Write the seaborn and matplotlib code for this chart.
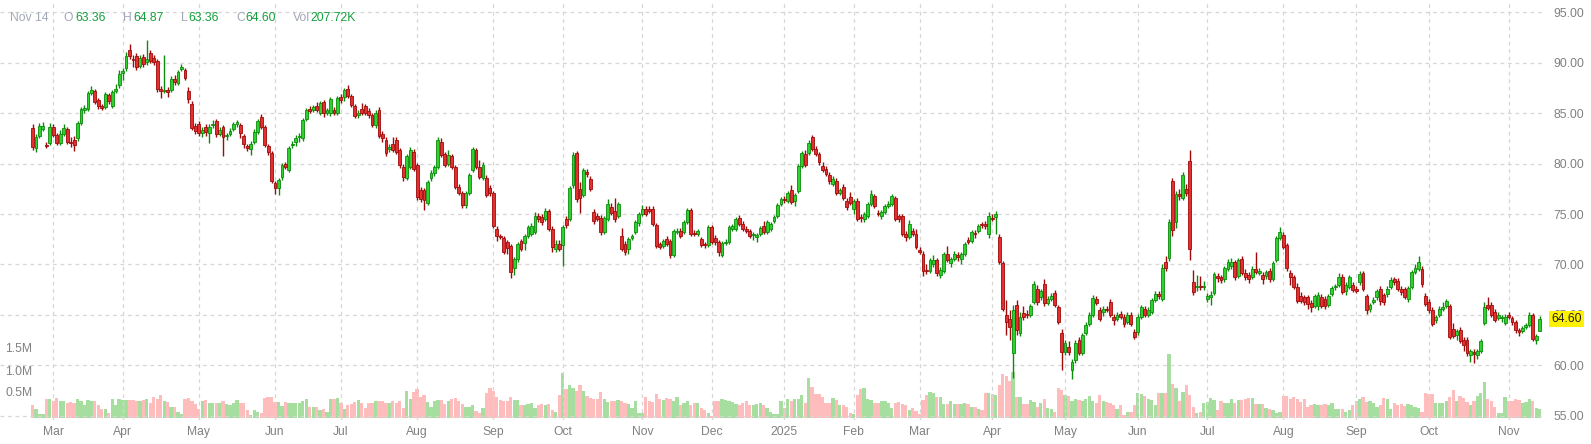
import numpy as np
import pandas as pd
import matplotlib
matplotlib.use("Agg")
import matplotlib.pyplot as plt
import seaborn as sns
from matplotlib.transforms import blended_transform_factory

# ---------------- data ----------------
start_date = "2024-02-22"
end_date = "2025-11-14"
market_holidays = ["2024-03-29", "2024-05-27", "2024-06-19", "2024-07-04", "2024-09-02",
                   "2024-11-28", "2024-12-25", "2025-01-01", "2025-01-09", "2025-01-20",
                   "2025-02-17", "2025-04-18", "2025-05-26", "2025-06-19", "2025-07-04",
                   "2025-09-01"]

opens = [
    83.5, 81.6, 82.7, 83.4, 81.9, 82.1, 83.6, 82.8, 82.1, 82.9,
    83.4, 82.2, 82.4, 82.5, 84.0, 85.3, 85.4, 87.0, 87.2, 86.3,
    85.7, 85.6, 86.8, 85.7, 87.2, 87.8, 89.0, 89.5, 91.3, 90.4,
    90.7, 89.7, 90.6, 90.1, 91.0, 90.5, 90.2, 87.4, 87.2, 87.3,
    87.3, 88.4, 88.0, 89.4, 89.3, 87.2, 85.9, 83.7, 83.9, 83.0,
    83.6, 83.0, 83.8, 84.2, 82.9, 83.6, 82.7, 82.9, 83.4, 83.9,
    83.8, 82.7, 81.8, 81.5, 82.2, 83.1, 84.6, 83.6, 81.8, 81.1,
    78.1, 77.6, 78.7, 80.0, 79.4, 81.9, 82.2, 82.6, 82.5, 84.4,
    85.4, 85.3, 85.7, 85.0, 86.1, 85.0, 85.0, 85.3, 85.0, 86.6,
    86.6, 87.4, 86.7, 85.7, 84.8, 85.4, 85.7, 85.2, 84.8, 83.8,
    85.3, 82.9, 82.4, 81.5, 82.0, 82.4, 81.4, 79.7, 78.6, 79.7,
    81.2, 79.9, 77.4, 77.4, 76.1, 78.6, 79.1, 79.7, 82.2, 81.0,
    80.0, 80.8, 79.7, 77.7, 77.1, 75.9, 77.1, 79.4, 81.4, 79.7,
    78.6, 78.6, 77.6, 77.1, 73.5, 72.8, 72.6, 72.2, 71.8, 69.7,
    70.5, 72.3, 72.1, 72.8, 73.0, 73.2, 74.8, 74.7, 74.5, 75.3,
    73.5, 71.5, 72.0, 71.9, 74.5, 74.5, 77.9, 81.1, 77.5, 76.9,
    79.2, 78.5, 75.2, 74.8, 74.6, 73.2, 74.5, 75.7, 75.3, 74.8,
    72.8, 72.0, 71.5, 72.6, 73.2, 74.1, 75.0, 75.5, 75.5, 75.5,
    73.9, 72.0, 71.8, 72.5, 72.3, 70.9, 73.2, 73.3, 73.2, 74.2,
    75.4, 73.1, 73.0, 72.5, 72.0, 71.9, 73.7, 72.6, 72.2, 70.9,
    72.1, 72.2, 73.5, 73.5, 74.6, 74.0, 73.5, 73.3, 72.9, 72.7,
    73.0, 73.8, 73.2, 73.5, 74.3, 74.8, 76.0, 76.5, 76.3, 77.4,
    76.3, 77.3, 79.8, 81.0, 81.1, 82.6, 81.5, 81.0, 79.8, 79.5,
    78.9, 78.0, 78.3, 77.1, 77.7, 76.3, 76.7, 75.5, 76.3, 74.7,
    74.5, 74.8, 76.0, 76.8, 75.1, 74.8, 75.2, 75.8, 76.0, 76.6,
    74.8, 74.8, 73.0, 72.7, 73.3, 73.0, 71.4, 71.0, 69.5, 69.4,
    70.0, 70.4, 69.0, 69.4, 71.0, 70.1, 70.5, 70.9, 70.5, 71.0,
    72.4, 72.3, 73.1, 73.3, 74.0, 74.0, 73.0, 74.6, 74.7, 72.7,
    70.1, 65.0, 64.6, 61.2, 66.0, 63.2, 65.2, 65.1, 65.0, 66.3,
    67.6, 66.8, 68.1, 66.2, 66.6, 67.2, 65.8, 63.2, 61.3, 61.8,
    59.5, 60.5, 62.5, 61.2, 63.2, 64.1, 65.0, 66.6, 65.5, 65.3,
    65.6, 66.3, 64.8, 64.6, 65.1, 64.8, 64.3, 65.0, 63.3, 63.3,
    64.8, 65.6, 65.0, 65.3, 66.5, 67.1, 66.6, 70.2, 70.6, 78.3,
    74.2, 77.0, 76.6, 77.5, 80.3, 68.3, 67.8, 67.9, 67.8, 66.6,
    66.8, 67.2, 68.9, 68.8, 68.6, 69.6, 69.9, 70.2, 68.9, 70.5,
    69.2, 69.0, 68.8, 69.6, 69.2, 69.0, 68.9, 69.4, 68.6, 70.4,
    72.6, 72.9, 71.9, 69.2, 68.8, 67.8, 66.9, 66.8, 66.8, 66.2,
    65.9, 65.9, 66.8, 66.6, 66.0, 67.1, 67.8, 68.0, 68.8, 67.4,
    67.8, 68.0, 67.6, 68.3, 69.2, 66.9, 65.6, 66.3, 66.8, 67.6,
    67.0, 67.1, 67.8, 68.6, 68.4, 67.6, 67.6, 66.6, 67.8, 69.3,
    69.6, 69.6, 66.9, 66.3, 65.5, 64.5, 65.0, 65.6, 65.9, 65.9,
    63.6, 63.0, 63.5, 62.5, 62.5, 61.0, 61.3, 61.0, 61.4, 64.2,
    66.0, 66.0, 65.3, 64.7, 64.7, 64.2, 65.0, 64.7, 64.3, 63.5,
    63.4, 63.8, 64.0, 65.0, 62.5, 63.36,
]

highs = [
    83.9, 82.9, 84.0, 84.1, 82.2, 84.0, 83.9, 83.0, 83.3, 83.9,
    83.6, 82.6, 82.7, 84.2, 85.6, 85.8, 87.2, 87.7, 87.4, 86.5,
    85.9, 87.1, 87.0, 87.3, 87.9, 89.3, 89.5, 91.1, 91.9, 90.8,
    91.0, 90.8, 90.9, 92.3, 91.3, 90.8, 90.4, 87.7, 90.8, 87.6,
    88.7, 88.8, 89.3, 89.9, 89.5, 87.6, 86.2, 84.0, 84.2, 83.6,
    83.9, 83.9, 84.3, 84.4, 83.6, 83.8, 83.0, 83.5, 84.1, 84.3,
    84.0, 82.9, 82.0, 82.3, 83.4, 84.4, 84.9, 83.8, 82.0, 81.3,
    78.3, 78.6, 80.1, 80.2, 81.8, 82.3, 82.8, 83.0, 84.5, 85.5,
    85.7, 85.8, 86.1, 86.2, 86.3, 85.5, 86.6, 85.6, 86.7, 86.9,
    87.5, 87.8, 86.9, 85.9, 85.3, 86.0, 85.9, 85.5, 85.0, 85.3,
    85.6, 83.2, 82.6, 82.0, 82.6, 82.6, 81.6, 80.0, 81.0, 81.7,
    81.5, 80.1, 77.7, 77.6, 78.4, 79.4, 79.9, 82.6, 82.5, 81.2,
    81.4, 81.0, 79.9, 78.0, 77.3, 77.3, 79.1, 81.7, 81.6, 80.4,
    80.2, 78.9, 77.9, 77.3, 73.8, 73.0, 72.8, 72.4, 72.0, 70.7,
    72.2, 72.5, 73.0, 73.9, 74.1, 75.2, 75.1, 75.0, 75.6, 75.5,
    73.8, 72.4, 72.4, 73.9, 74.8, 77.8, 81.2, 81.3, 78.2, 79.6,
    79.5, 78.8, 75.5, 75.1, 74.9, 74.8, 76.5, 76.1, 76.6, 76.2,
    73.6, 72.3, 72.7, 73.0, 74.4, 75.2, 75.9, 75.8, 75.8, 75.8,
    74.1, 72.2, 72.5, 72.8, 72.5, 73.5, 73.6, 73.6, 74.4, 75.6,
    75.6, 73.4, 73.5, 72.7, 72.2, 73.9, 73.9, 72.9, 72.4, 72.3,
    72.5, 73.9, 74.0, 74.7, 74.9, 74.3, 73.8, 73.5, 73.2, 73.1,
    73.8, 74.3, 74.4, 74.2, 74.9, 76.1, 76.7, 76.8, 77.3, 77.9,
    77.1, 80.0, 81.3, 81.4, 82.4, 82.8, 81.8, 81.2, 80.2, 79.8,
    79.2, 78.8, 78.6, 77.6, 78.0, 76.6, 77.2, 76.5, 76.6, 75.0,
    75.2, 76.2, 77.4, 77.0, 75.4, 75.4, 76.0, 76.3, 77.0, 76.8,
    75.0, 75.0, 73.3, 74.4, 73.6, 73.5, 71.7, 71.3, 70.0, 70.6,
    70.9, 70.6, 69.8, 71.2, 71.8, 70.7, 71.3, 71.2, 71.2, 72.2,
    72.7, 73.4, 73.4, 74.0, 74.2, 74.3, 75.2, 75.0, 75.3, 73.0,
    70.3, 66.5, 65.5, 66.0, 66.5, 65.3, 65.9, 65.5, 66.1, 68.4,
    68.0, 67.6, 68.6, 66.9, 67.2, 67.5, 66.0, 63.6, 62.5, 62.4,
    60.6, 62.5, 62.8, 63.2, 64.3, 65.3, 67.0, 66.9, 65.8, 65.9,
    65.9, 66.6, 65.1, 65.3, 65.4, 65.1, 65.3, 65.3, 63.6, 65.1,
    66.0, 65.9, 65.8, 66.7, 67.4, 67.4, 70.0, 70.8, 74.5, 78.6,
    77.3, 77.5, 79.2, 78.0, 81.4, 69.5, 69.0, 68.9, 68.4, 67.2,
    67.4, 69.3, 69.2, 69.0, 69.9, 70.5, 70.6, 70.4, 70.6, 70.8,
    69.6, 69.3, 69.9, 71.2, 69.7, 69.3, 69.5, 69.7, 70.3, 72.8,
    73.7, 73.2, 72.1, 69.5, 69.0, 68.2, 67.3, 67.0, 67.0, 66.5,
    67.1, 67.3, 67.1, 66.9, 67.1, 67.9, 68.1, 69.2, 69.1, 68.3,
    69.0, 68.3, 67.9, 69.4, 69.4, 67.1, 66.2, 66.8, 67.6, 67.9,
    67.2, 67.9, 68.8, 68.8, 68.7, 67.9, 67.8, 67.9, 69.5, 70.0,
    70.8, 69.9, 67.2, 66.6, 65.8, 65.0, 65.9, 66.3, 66.6, 66.1,
    64.2, 63.6, 63.8, 62.8, 62.8, 61.6, 61.6, 61.6, 62.6, 66.3,
    66.8, 66.3, 65.6, 65.3, 65.0, 65.1, 65.3, 64.9, 64.5, 63.7,
    63.9, 64.2, 65.3, 65.2, 63.1, 64.87,
]

lows = [
    81.4, 81.2, 82.5, 83.2, 81.6, 81.9, 82.6, 81.9, 81.9, 82.7,
    82.0, 81.7, 81.3, 82.3, 83.8, 85.0, 85.2, 86.8, 85.9, 85.4,
    85.3, 85.4, 85.9, 85.5, 87.0, 87.5, 88.3, 89.2, 90.4, 89.6,
    89.3, 89.5, 89.6, 89.8, 90.0, 89.8, 87.1, 86.5, 87.0, 86.6,
    87.1, 87.8, 87.8, 89.2, 88.3, 86.0, 83.3, 82.9, 82.7, 82.6,
    82.7, 82.1, 83.5, 82.6, 82.7, 80.8, 82.4, 82.7, 83.2, 83.6,
    82.5, 81.6, 81.3, 80.9, 82.0, 82.9, 83.4, 81.7, 80.9, 78.1,
    77.0, 76.9, 78.4, 79.5, 79.2, 81.6, 81.8, 82.2, 82.3, 84.2,
    85.0, 85.1, 85.1, 84.8, 84.6, 84.8, 84.7, 84.8, 84.8, 86.0,
    86.2, 86.5, 85.6, 84.5, 84.5, 84.8, 84.8, 84.5, 83.6, 83.5,
    82.5, 82.2, 80.8, 81.2, 81.2, 81.0, 79.6, 78.3, 78.4, 79.5,
    79.3, 76.4, 76.2, 75.4, 75.9, 78.3, 78.8, 79.5, 80.7, 79.7,
    79.8, 79.5, 77.5, 76.9, 75.6, 75.6, 76.9, 79.2, 79.5, 78.5,
    78.4, 76.7, 76.8, 73.6, 72.3, 72.5, 71.0, 71.0, 68.7, 69.0,
    70.2, 71.3, 71.4, 72.6, 72.8, 73.0, 74.2, 73.9, 74.3, 73.3,
    71.2, 71.2, 71.3, 69.9, 73.6, 74.3, 77.6, 76.2, 75.1, 76.7,
    78.7, 77.3, 74.0, 74.3, 72.9, 73.0, 74.3, 74.9, 74.2, 74.6,
    71.3, 70.9, 71.0, 72.4, 73.0, 73.8, 74.8, 74.8, 75.1, 73.8,
    71.6, 71.5, 71.6, 71.8, 70.6, 70.7, 73.0, 72.6, 73.0, 74.0,
    72.8, 72.8, 72.8, 71.7, 71.6, 71.7, 72.0, 71.9, 70.8, 70.7,
    71.9, 72.0, 73.3, 73.3, 73.8, 73.3, 73.1, 72.6, 72.4, 72.2,
    72.8, 73.0, 73.0, 73.3, 74.1, 74.6, 75.8, 76.1, 76.1, 76.0,
    75.8, 77.1, 79.6, 79.7, 80.9, 81.3, 80.8, 79.9, 79.2, 78.8,
    78.0, 77.8, 76.9, 76.9, 76.4, 75.4, 75.9, 75.0, 74.3, 74.2,
    74.2, 74.6, 75.8, 75.6, 74.8, 74.5, 75.0, 75.6, 75.8, 74.3,
    74.2, 72.8, 72.3, 72.5, 72.8, 71.5, 71.0, 68.9, 69.1, 69.2,
    69.8, 68.9, 68.7, 69.2, 70.2, 69.8, 70.3, 70.3, 70.0, 70.8,
    72.0, 72.1, 72.6, 73.1, 73.6, 73.5, 72.6, 74.3, 73.0, 70.0,
    65.4, 63.0, 62.5, 58.7, 63.0, 62.9, 64.5, 64.7, 64.8, 66.1,
    66.0, 66.5, 65.9, 66.0, 66.4, 65.8, 64.1, 59.5, 61.0, 61.0,
    58.6, 60.2, 61.0, 61.0, 63.0, 63.9, 64.8, 66.0, 64.4, 64.9,
    65.3, 64.8, 64.0, 64.4, 64.6, 63.8, 64.1, 63.9, 62.6, 63.0,
    64.6, 64.8, 64.8, 65.1, 66.3, 66.6, 66.4, 69.4, 70.3, 72.8,
    73.6, 76.4, 76.4, 76.8, 70.4, 67.0, 67.4, 67.5, 67.5, 66.3,
    66.0, 67.0, 68.3, 68.2, 68.3, 69.4, 69.6, 68.5, 68.7, 69.0,
    68.5, 68.2, 68.6, 69.1, 69.0, 68.1, 68.6, 68.3, 68.4, 70.2,
    72.4, 71.5, 69.4, 68.0, 67.6, 66.2, 66.2, 66.0, 65.6, 65.3,
    65.7, 65.5, 65.7, 65.6, 65.8, 66.9, 67.5, 67.8, 67.1, 67.0,
    67.6, 67.3, 67.2, 68.0, 67.4, 65.1, 65.3, 66.1, 66.5, 66.0,
    66.0, 66.8, 67.6, 68.0, 67.4, 67.0, 66.6, 66.3, 67.6, 69.1,
    69.4, 67.8, 65.9, 65.2, 63.9, 64.2, 64.8, 65.4, 65.7, 62.6,
    62.7, 62.5, 62.2, 61.4, 60.9, 60.3, 60.2, 60.6, 61.2, 64.0,
    65.5, 64.8, 64.3, 64.5, 64.3, 64.0, 64.6, 64.0, 63.2, 62.9,
    63.2, 63.6, 63.8, 62.4, 62.1, 63.36,
]

closes = [
    81.7, 82.6, 83.7, 83.7, 81.8, 83.6, 82.8, 82.1, 82.9, 83.5,
    82.2, 82.1, 81.9, 84.0, 85.4, 85.5, 87.0, 87.3, 86.1, 85.7,
    85.5, 86.9, 86.2, 87.1, 87.4, 88.9, 89.2, 90.7, 90.7, 90.3,
    89.6, 90.5, 89.9, 90.4, 90.2, 90.1, 87.4, 87.2, 87.3, 87.1,
    88.4, 88.1, 89.1, 89.6, 88.5, 86.4, 83.5, 83.2, 83.0, 83.3,
    83.1, 83.6, 83.9, 82.9, 83.3, 82.6, 82.8, 83.2, 83.9, 84.1,
    83.0, 82.0, 81.6, 82.0, 83.1, 84.2, 83.6, 81.9, 81.2, 78.3,
    77.6, 78.4, 79.9, 79.7, 81.6, 82.0, 82.5, 82.7, 84.3, 85.3,
    85.2, 85.6, 85.3, 86.0, 85.0, 85.3, 86.4, 85.0, 86.5, 86.3,
    87.3, 86.7, 85.8, 84.7, 85.0, 85.0, 85.0, 84.8, 83.8, 85.0,
    82.7, 82.5, 81.1, 81.7, 81.4, 81.2, 79.9, 78.7, 80.8, 81.4,
    79.5, 76.7, 76.5, 76.4, 78.2, 79.1, 79.7, 82.4, 80.9, 79.9,
    80.9, 79.7, 77.7, 77.1, 75.9, 77.1, 78.9, 81.5, 79.7, 78.7,
    79.9, 76.9, 77.1, 73.8, 72.8, 72.7, 71.2, 71.6, 69.3, 70.5,
    72.0, 71.5, 72.8, 73.7, 73.8, 74.8, 74.5, 74.2, 75.3, 73.5,
    71.7, 72.0, 71.5, 73.7, 73.9, 77.6, 80.9, 76.5, 76.6, 79.4,
    79.0, 77.5, 74.3, 74.5, 73.2, 74.6, 76.0, 75.1, 74.5, 76.0,
    71.5, 71.2, 72.5, 72.8, 74.2, 75.0, 75.5, 75.0, 75.3, 74.0,
    71.8, 71.7, 72.3, 72.0, 70.9, 73.3, 73.3, 72.8, 74.2, 75.4,
    73.0, 73.0, 73.3, 71.9, 71.9, 73.7, 72.2, 72.2, 71.2, 72.1,
    72.2, 73.7, 73.8, 74.5, 74.0, 73.5, 73.3, 72.8, 72.9, 72.9,
    73.6, 73.2, 74.2, 74.0, 74.7, 75.9, 76.5, 76.4, 77.1, 76.2,
    76.9, 79.8, 81.1, 79.9, 82.1, 81.5, 81.0, 80.2, 79.4, 79.0,
    78.3, 78.5, 77.1, 77.4, 76.6, 75.7, 76.1, 76.3, 74.5, 74.6,
    75.0, 76.0, 77.0, 75.8, 75.0, 75.2, 75.8, 76.0, 76.8, 74.5,
    74.5, 73.0, 72.7, 74.0, 73.0, 71.7, 71.2, 69.4, 69.4, 70.4,
    70.4, 69.2, 69.5, 71.0, 70.4, 70.5, 71.0, 70.7, 71.0, 72.0,
    72.2, 73.2, 73.0, 73.8, 73.9, 73.8, 74.8, 74.5, 75.0, 70.2,
    65.6, 64.3, 63.8, 65.5, 63.5, 64.8, 64.8, 65.0, 65.9, 68.1,
    66.3, 67.4, 66.2, 66.6, 66.9, 66.0, 64.3, 61.3, 62.2, 61.3,
    60.3, 62.2, 61.2, 63.0, 64.0, 65.0, 66.7, 66.2, 64.6, 65.6,
    65.5, 65.0, 64.5, 65.0, 64.8, 64.1, 65.0, 64.1, 62.8, 64.8,
    65.8, 65.0, 65.5, 66.5, 67.1, 66.9, 69.7, 69.7, 74.2, 73.4,
    77.0, 76.8, 78.9, 77.1, 71.5, 67.3, 67.9, 67.8, 67.9, 66.9,
    67.0, 69.1, 68.7, 68.5, 69.7, 70.2, 70.2, 68.8, 70.4, 69.2,
    68.8, 68.6, 69.6, 69.3, 69.4, 68.6, 69.3, 68.6, 70.1, 72.6,
    73.2, 71.7, 69.7, 68.8, 67.8, 66.4, 66.4, 66.3, 66.1, 65.8,
    66.9, 67.0, 65.9, 65.9, 66.9, 67.7, 67.8, 68.8, 67.3, 68.0,
    68.8, 67.5, 67.4, 69.1, 67.6, 65.5, 66.0, 66.5, 67.4, 66.4,
    66.3, 67.6, 68.5, 68.3, 67.6, 67.3, 66.8, 67.7, 69.3, 69.7,
    70.2, 68.1, 66.1, 65.5, 64.1, 64.8, 65.6, 65.8, 66.4, 62.8,
    62.9, 63.4, 62.4, 62.0, 61.2, 61.4, 61.1, 61.4, 62.4, 65.8,
    65.7, 65.0, 64.5, 65.0, 64.8, 64.8, 64.8, 64.3, 63.5, 63.3,
    63.7, 64.0, 65.0, 62.6, 62.9, 64.60,
]

volumes_k = [
    288, 197, 83, 98, 424, 424, 386, 462, 386, 386,
    348, 364, 333, 424, 386, 288, 409, 386, 386, 288,
    197, 197, 106, 439, 288, 439, 409, 409, 409, 409,
    386, 386, 409, 424, 348, 485, 439, 515, 386, 364,
    258, 258, 136, 83, 424, 462, 386, 311, 212, 386,
    409, 333, 333, 348, 348, 386, 311, 288, 348, 409,
    348, 348, 182, 61, 182, 136, 121, 462, 485, 485,
    364, 364, 273, 364, 333, 333, 348, 333, 386, 424,
    258, 258, 258, 182, 197, 136, 424, 424, 447, 348,
    197, 288, 311, 364, 409, 348, 235, 348, 333, 386,
    386, 386, 348, 348, 386, 333,
    392, 235, 610, 436, 584, 653, 479, 523, 375, 261,
    392, 409, 418, 322, 392, 436, 453, 392, 322, 261,
    261, 287, 148, 113, 218, 566, 679, 618, 479, 409,
    392, 392, 479, 409, 409, 305, 287, 322, 348, 235,
    305, 322, 287, 322, 174, 131, 523, 1028, 653, 758,
    671, 610, 758, 610, 497, 453, 436, 436, 584, 436,
    375, 392, 392, 409, 392, 348, 322, 235, 392, 113,
    113, 479, 392, 375, 549, 436, 409, 462, 427, 392,
    479, 305, 348, 392, 287, 348, 348, 235, 174, 113,
    44, 392, 392, 436, 409, 392, 375, 322, 305, 348,
    392, 305, 287, 322, 348, 305, 218, 131, 87, 87,
    392, 235, 436, 392, 436, 436, 523, 348, 915, 697,
    549, 549, 479, 348, 348, 462, 409, 287, 287, 261,
    113, 87, 523, 653, 679, 436, 409, 348, 348, 392,
    392, 348, 235, 348, 375, 322, 287, 174, 235, 148,
    87, 409, 523, 584, 566, 479, 479, 322, 322, 392,
    322, 322, 322, 348, 322, 261, 261, 200, 174, 566,
    566, 549, 523,
    750, 1000, 950, 850, 1050,
    472, 472, 317, 317, 403, 360, 240, 343, 429, 232,
    197, 146, 686, 644, 532, 489, 386, 429, 403, 386,
    429, 489, 386, 343, 515, 386, 369, 343, 300, 215,
    300, 60, 146, 146, 300, 575, 541, 489, 429, 403,
    300, 575, 575, 575, 1459, 772, 686, 386, 601, 746,
    515, 257, 112, 129, 343, 369, 446, 412, 172, 386,
    343, 343, 429, 343, 420, 403, 429, 446, 455, 317,
    317, 317, 232, 215, 172, 112, 129, 489, 489, 429,
    472, 429, 369, 429, 257, 300, 317, 300, 300, 317,
    300, 343, 215, 215, 197, 146, 172, 300, 386, 429,
    472, 369, 386, 343, 257, 300, 455, 429, 215, 343,
    300, 317, 283, 317, 300, 257, 232, 129, 575, 541,
    541, 343, 343, 343, 386, 472, 644, 386, 489, 455,
    369, 300, 386, 489, 558, 815, 429, 386, 257, 112,
    112, 472, 386, 386, 429, 403, 343, 369, 429, 386,
    232, 208,
]

price_ticks = [55, 60, 65, 70, 75, 80, 85, 90, 95]
volume_labels = ["1.5M", "1.0M", "0.5M"]
header_items = [("Nov 14", "label"), ("O", "label"), ("63.36", "value"),
                ("H", "label"), ("64.87", "value"), ("L", "label"), ("63.36", "value"),
                ("C", "label"), ("64.60", "value"), ("Vol", "label"), ("207.72K", "value")]
last_price = 64.60

# ---------------- style ----------------
sns.set_style("white")
plt.rcParams["font.family"] = ["Liberation Sans", "DejaVu Sans"]

W, H = 1591, 444
AX_RIGHT_PX, AX_BOTTOM_PX = 1543, 420
GRID_C = "#d6d6d6"
TEXT_C = "#808080"
UP_FILL, UP_EDGE = "#2fd12f", "#0c8a0c"
DN_FILL, DN_EDGE = "#e23030", "#9e0a0a"
VOL_UP, VOL_DN = "#a6dea0", "#ffbcbc"

dates = pd.bdate_range(start_date, end_date, freq="C", holidays=market_holidays)
n = min(len(dates), len(closes), len(opens), len(highs), len(lows), len(volumes_k))
o = np.array(opens[:n]); c = np.array(closes[:n])
hi = np.array(highs[:n]); lo = np.array(lows[:n])
vol = np.array(volumes_k[:n]) * 1000.0
x = np.arange(n)
up = c >= o

fig = plt.figure(figsize=(W / 100, H / 100), dpi=100)
fig.patch.set_facecolor("white")
ax = fig.add_axes([0, 1 - AX_BOTTOM_PX / H, AX_RIGHT_PX / W, AX_BOTTOM_PX / H])
ax2 = ax.twinx()
ax.set_zorder(ax2.get_zorder() + 1)
ax.patch.set_visible(False)

# volume bars (seaborn)
vol_df = pd.DataFrame({"pos": x, "volume": vol,
                       "direction": np.where(up, "up", "down")})
sns.barplot(data=vol_df, x="pos", y="volume", hue="direction",
            palette={"up": VOL_UP, "down": VOL_DN}, native_scale=True,
            dodge=False, width=0.94, errorbar=None, legend=False,
            saturation=1.0, linewidth=0, ax=ax2)
ax2.set_ylim(-2 / 44 * 1e6, 418 / 44 * 1e6)
ax2.set_yticks([])
ax2.set_xlabel(""); ax2.set_ylabel("")
for s in ax2.spines.values():
    s.set_visible(False)

# candles
ax.vlines(x[up], lo[up], hi[up], color=UP_EDGE, linewidth=1.0, zorder=3)
ax.vlines(x[~up], lo[~up], hi[~up], color=DN_EDGE, linewidth=1.0, zorder=3)
body_lo = np.minimum(o, c)
body_h = np.maximum(np.abs(c - o), 0.1)
ax.bar(x[up], body_h[up], bottom=body_lo[up], width=0.82, color=UP_FILL,
       edgecolor=UP_EDGE, linewidth=0.6, zorder=4)
ax.bar(x[~up], body_h[~up], bottom=body_lo[~up], width=0.82, color=DN_FILL,
       edgecolor=DN_EDGE, linewidth=0.6, zorder=4)

# axes scales
px_per_day = 3.465
x0_px = 32.5
ax.set_xlim(-x0_px / px_per_day, (AX_RIGHT_PX - x0_px) / px_per_day)
ax2.set_xlim(ax.get_xlim())
ax.set_ylim(95 - (AX_BOTTOM_PX - 12.5) / 10.08, 95 + 12.5 / 10.08)

# month ticks
tick_pos, tick_lab = [], []
for i in range(1, n):
    if dates[i].month != dates[i - 1].month:
        tick_pos.append(i)
        tick_lab.append(str(dates[i].year) if dates[i].month == 1 else dates[i].strftime("%b"))
ax.set_xticks(tick_pos)
ax.set_xticklabels(tick_lab)
ax.set_yticks(price_ticks)
ax.set_yticklabels([f"{v:.2f}" for v in price_ticks])
ax.yaxis.tick_right()
ax.tick_params(axis="y", length=0, pad=7.2, labelsize=8.7, labelcolor=TEXT_C)
ax.tick_params(axis="x", length=0, pad=4.0, labelsize=8.7, labelcolor=TEXT_C)
ax.grid(True, linestyle=(0, (3, 3)), color=GRID_C, linewidth=0.9)
ax.set_axisbelow(True)
for s in ax.spines.values():
    s.set_visible(False)

# volume scale labels
for lab, ypx in zip(volume_labels, [349, 371.7, 393.3]):
    ax.text(5 / AX_RIGHT_PX, (AX_BOTTOM_PX - ypx) / AX_BOTTOM_PX, lab,
            transform=ax.transAxes, ha="left", va="center",
            fontsize=8.7, color=TEXT_C, zorder=6)

# last price label
tr = blended_transform_factory(ax.transAxes, ax.transData)
ax.text(1 + 8 / AX_RIGHT_PX, last_price, f"{last_price:.2f}", transform=tr,
        ha="left", va="center", fontsize=8.7, color="#222222", clip_on=False,
        zorder=10, bbox=dict(facecolor="#fff200", edgecolor="none", pad=1.6))

# header legend
header_x = [9.5, 63, 75, 122.5, 133, 180.5, 188, 236, 245, 293, 310]
for (txt, kind), hx in zip(header_items, header_x):
    fig.text(hx / W, 1 - 18 / H, txt, ha="left", va="center", fontsize=8.7,
             color=("#a3a8b8" if kind == "label" else "#14a03c"))

fig.savefig("out.png", dpi=100, facecolor="white")
